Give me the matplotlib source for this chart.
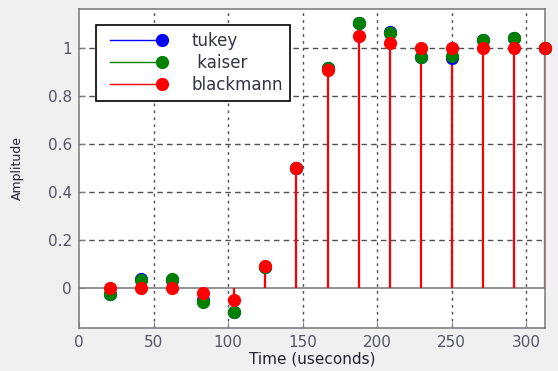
import matplotlib.pyplot as plt
import numpy as np
from matplotlib.legend_handler import HandlerLine2D
from matplotlib.lines import Line2D

# sample times (useconds), one sample every 1/48 kHz
t_us = np.arange(1, 16) * (1e6 / 48000)

tukey = [-0.025, 0.037, 0.034, -0.050, -0.103, 0.086, 0.50, 0.918, 1.104,
         1.066, 0.964, 0.958, 1.034, 1.044, 1.0]
kaiser = [-0.028, 0.032, 0.036, -0.058, -0.103, 0.085, 0.50, 0.918, 1.104,
          1.062, 0.964, 0.966, 1.034, 1.044, 1.0]
blackmann = [0.0, 0.0, 0.0, -0.021, -0.051, 0.092, 0.498, 0.909, 1.052,
             1.024, 1.002, 1.0, 1.0, 1.0, 1.0]

series = [('tukey', tukey, 'blue'),
          ('kaiser', kaiser, 'green'),
          ('blackmann', blackmann, 'red')]
legend_labels = ['tukey', ' kaiser', 'blackmann']

x_ticks = [0, 50, 100, 150, 200, 250, 300]
y_ticks = [0, 0.2, 0.4, 0.6, 0.8, 1.0]
y_tick_labels = ['0', '0.2', '0.4', '0.6', '0.8', '1']


class StemHandler(HandlerLine2D):
    # short line with the marker sitting at its right end
    def create_artists(self, legend, orig_handle, xdescent, ydescent,
                       width, height, fontsize, trans):
        y = height / 2 - ydescent
        x0 = -xdescent + 0.13 * width
        x1 = -xdescent + width
        line = Line2D([x0, x1], [y, y])
        self.update_prop(line, orig_handle, legend)
        line.set_markevery([1])
        line.set_transform(trans)
        return [line]


plt.rcParams['font.family'] = ['DejaVu Sans']

fig = plt.figure(figsize=(5.58, 3.71), dpi=100, facecolor='#f0f0f0')
ax = fig.add_axes([0.1416, 0.1167, 0.835, 0.859])
ax.set_facecolor('white')

handles = []
for name, vals, color in series:
    ml, sl, bl = ax.stem(t_us, vals, basefmt=' ')
    plt.setp(sl, color=color, linewidth=1.5)
    plt.setp(ml, color=color, markersize=8.5, markeredgecolor=color,
             clip_on=False, zorder=3)
    handles.append(Line2D([], [], color=color, linewidth=1, marker='o',
                          markersize=8.5))

ax.axhline(0, color='#808080', linewidth=1.2, zorder=0.5)

ax.set_xlim(0, 312.5)
ax.set_ylim(-0.167, 1.164)
ax.set_xticks(x_ticks)
ax.set_yticks(y_ticks)
ax.set_yticklabels(y_tick_labels)

for x in x_ticks[1:]:
    ax.axvline(x, color='#505050', linestyle=(0, (2, 3)), linewidth=1, zorder=0)
for y in y_ticks[1:]:
    ax.axhline(y, color='#505050', linestyle=(0, (4, 3)), linewidth=1, zorder=0)

ax.tick_params(direction='in', colors='#808080', labelcolor='#555566',
               labelsize=11, length=4, pad=5)
for sp in ax.spines.values():
    sp.set_color('#808080')
    sp.set_linewidth(1.2)

ax.set_xlabel('Time (useconds)', fontsize=11, color='#222233', labelpad=1)
ax.set_ylabel('Amplitude', fontsize=9, color='#222233', labelpad=17)

leg = ax.legend(handles, legend_labels, loc='upper left',
                bbox_to_anchor=(0.0365, 0.95), fontsize=12, numpoints=1,
                handler_map={Line2D: StemHandler()}, fancybox=False,
                framealpha=1, edgecolor='black', borderpad=0.4,
                handlelength=3.55, handletextpad=1.8, labelspacing=0.25,
                borderaxespad=0)
leg.get_frame().set_linewidth(1.2)
for txt in leg.get_texts():
    txt.set_color('#333344')

fig.savefig('out.png', dpi=100, facecolor=fig.get_facecolor())
